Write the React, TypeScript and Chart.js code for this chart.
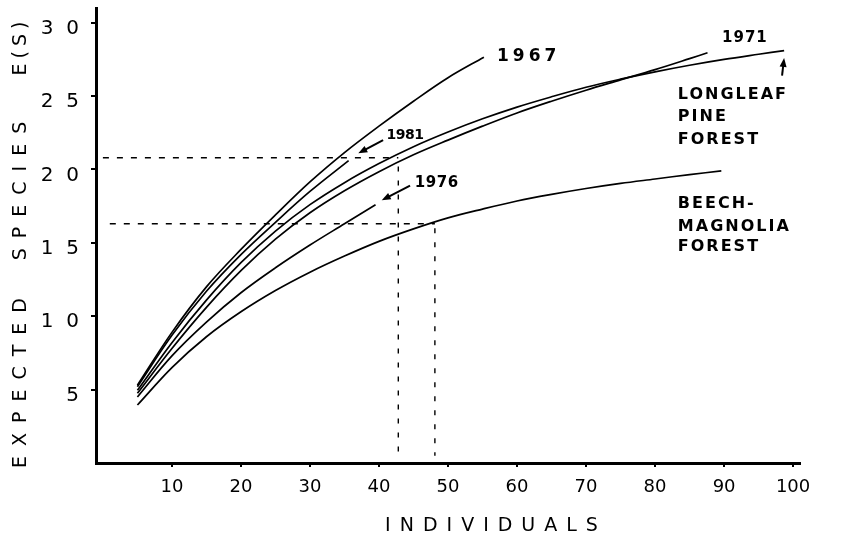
import React, { useEffect, useRef } from 'react';
import { Chart, registerables } from 'chart.js';

Chart.register(...registerables);

// ---------- tick labels ----------
const X_TICKS = [10, 20, 30, 40, 50, 60, 70, 80, 90, 100];
const X_TICK_LABELS = ['10', '20', '30', '40', '50', '60', '70', '80', '90', '100'];
const Y_TICKS = [5, 10, 15, 20, 25, 30];
const Y_TICK_LABELS = ['5', '1  0', '1  5', '2  0', '2  5', '3  0'];

// ---------- rarefaction curves (individuals -> expected species) ----------
const X_1967 = [5, 10, 15, 20, 25, 30, 35, 40, 45, 50, 55.2];
const Y_1967 = [5.3, 8.9, 12.0, 14.55, 16.9, 19.15, 21.15, 22.95, 24.65, 26.25, 27.65];

const X_1981 = [5, 10, 15, 20, 25, 30, 35.6];
const Y_1981 = [5.2, 8.7, 11.7, 14.2, 16.4, 18.5, 20.6];

const X_LONGLEAF = [5, 10, 15, 20, 25, 30, 35, 40, 45, 50, 55, 60, 65, 70, 75, 80, 85, 90, 95, 98.7];
const Y_LONGLEAF = [4.95, 8.2, 11.1, 13.65, 15.8, 17.6, 19.1, 20.4, 21.55, 22.55, 23.45, 24.25, 24.95, 25.6, 26.15, 26.65, 27.1, 27.5, 27.85, 28.1];

const X_1971 = [5, 10, 15, 20, 25, 30, 35, 40, 45, 50, 55, 60, 65, 70, 75, 80, 85, 87.6];
const Y_1971 = [4.75, 7.8, 10.6, 13.1, 15.25, 17.05, 18.55, 19.85, 21.0, 22.0, 22.95, 23.85, 24.65, 25.4, 26.1, 26.8, 27.55, 27.95];

const X_1976 = [5, 10, 15, 20, 25, 30, 35, 39.5];
const Y_1976 = [4.5, 7.3, 9.6, 11.6, 13.3, 14.85, 16.3, 17.6];

const X_BEECH = [5, 10, 15, 20, 25, 30, 35, 40, 45, 50, 55, 60, 65, 70, 75, 80, 85, 89.6];
const Y_BEECH = [3.95, 6.5, 8.6, 10.3, 11.75, 13.0, 14.1, 15.1, 15.95, 16.7, 17.3, 17.85, 18.3, 18.7, 19.05, 19.35, 19.65, 19.9];

// ---------- dashed reading lines ----------
const REF_H1_X = [0, 42.8];
const REF_H1_Y = [20.8, 20.8];
const REF_V1_X = [42.8, 42.8];
const REF_V1_Y = [20.2, 0.5];
const REF_H2_X = [1, 48.1];
const REF_H2_Y = [16.3, 16.3];
const REF_V2_X = [48.1, 48.1];
const REF_V2_Y = [16.0, 0.5];

// ---------- annotations (data coordinates) ----------
const NOTE_TEXT = ['1967', '1981', '1976', '1971', 'LONGLEAF', 'PINE', 'FOREST', 'BEECH-', 'MAGNOLIA', 'FOREST'];
const NOTE_X = [57.1, 41.1, 45.2, 89.7, 83.3, 83.3, 83.3, 83.3, 83.3, 83.3];
const NOTE_Y = [27.7, 22.35, 19.1, 28.95, 25.05, 23.6, 22.0, 17.65, 16.1, 14.75];

const ARROW_TAIL_X = [40.6, 44.5, 98.4];
const ARROW_TAIL_Y = [22.0, 18.9, 26.4];
const ARROW_TIP_X = [37.0, 40.4, 98.7];
const ARROW_TIP_Y = [21.1, 17.9, 27.6];

const FONT = '"DejaVu Sans", "Liberation Sans", sans-serif';

const pts = (xs: number[], ys: number[]) => xs.map((x, i) => ({ x, y: ys[i] }));

const curve = (label: string, xs: number[], ys: number[]) => ({
  label,
  data: pts(xs, ys),
  borderColor: '#000',
  borderWidth: 1.7,
  pointRadius: 0,
  fill: false,
  tension: 0.35,
});

const dashed = (label: string, xs: number[], ys: number[], dash: number[]) => ({
  label,
  data: pts(xs, ys),
  borderColor: '#000',
  borderWidth: 1.4,
  borderDash: dash,
  pointRadius: 0,
  fill: false,
  tension: 0,
});

const notesPlugin = {
  id: 'notes',
  afterDatasetsDraw(chart: any) {
    const { ctx, scales } = chart;
    const xs = scales.x;
    const ys = scales.y;
    ctx.save();
    ctx.fillStyle = '#000';
    ctx.strokeStyle = '#000';
    ctx.textBaseline = 'middle';
    ctx.textAlign = 'left';

    const styles: Record<string, [string, number]> = {
      '1967': ['bold 17px ' + FONT, 4],
      '1981': ['bold 14px ' + FONT, -0.5],
      '1976': ['bold 15px ' + FONT, 0.5],
      '1971': ['bold 15px ' + FONT, 1],
    };
    NOTE_TEXT.forEach((t, i) => {
      const st = styles[t] || ['bold 16px ' + FONT, 2];
      ctx.font = st[0];
      (ctx as any).letterSpacing = st[1] + 'px';
      ctx.fillText(t, xs.getPixelForValue(NOTE_X[i]), ys.getPixelForValue(NOTE_Y[i]));
    });
    (ctx as any).letterSpacing = '0px';

    // arrows
    ctx.lineWidth = 2;
    ARROW_TIP_X.forEach((_, i) => {
      const x0 = xs.getPixelForValue(ARROW_TAIL_X[i]);
      const y0 = ys.getPixelForValue(ARROW_TAIL_Y[i]);
      const x1 = xs.getPixelForValue(ARROW_TIP_X[i]);
      const y1 = ys.getPixelForValue(ARROW_TIP_Y[i]);
      const a = Math.atan2(y1 - y0, x1 - x0);
      const L = 9;
      const W = 3.5;
      ctx.beginPath();
      ctx.moveTo(x0, y0);
      ctx.lineTo(x1 - Math.cos(a) * L * 0.7, y1 - Math.sin(a) * L * 0.7);
      ctx.stroke();
      ctx.beginPath();
      ctx.moveTo(x1, y1);
      ctx.lineTo(x1 - Math.cos(a) * L - Math.sin(a) * W, y1 - Math.sin(a) * L + Math.cos(a) * W);
      ctx.lineTo(x1 - Math.cos(a) * L + Math.sin(a) * W, y1 - Math.sin(a) * L - Math.cos(a) * W);
      ctx.closePath();
      ctx.fill();
    });

    // x-axis title
    ctx.font = '19px ' + FONT;
    ctx.textAlign = 'center';
    (ctx as any).letterSpacing = '9px';
    ctx.fillText('INDIVIDUALS', 496, 526);

    // y-axis title
    ctx.translate(21, 0);
    ctx.rotate(-Math.PI / 2);
    ctx.font = '19px ' + FONT;
    (ctx as any).letterSpacing = '10px';
    ctx.fillText('EXPECTED', -378, 0);
    ctx.fillText('SPECIES', -186, 0);
    (ctx as any).letterSpacing = '5px';
    ctx.fillText('E(S)', -46, 0);
    (ctx as any).letterSpacing = '0px';
    ctx.restore();
  },
};

export default function App() {
  const canvasRef = useRef<HTMLCanvasElement | null>(null);

  useEffect(() => {
    document.body.style.margin = '0';
    const canvas = canvasRef.current;
    if (!canvas) return;
    const chart = new Chart(canvas, {
      type: 'line',
      data: {
        datasets: [
          curve('1967', X_1967, Y_1967),
          curve('1981', X_1981, Y_1981),
          curve('Longleaf pine forest', X_LONGLEAF, Y_LONGLEAF),
          curve('1971', X_1971, Y_1971),
          curve('1976', X_1976, Y_1976),
          curve('Beech-magnolia forest', X_BEECH, Y_BEECH),
          dashed('ref-h1', REF_H1_X, REF_H1_Y, [6, 8]),
          dashed('ref-v1', REF_V1_X, REF_V1_Y, [5, 9]),
          dashed('ref-h2', REF_H2_X, REF_H2_Y, [6, 8]),
          dashed('ref-v2', REF_V2_X, REF_V2_Y, [5, 9]),
        ] as any,
      },
      options: {
        animation: false,
        responsive: true,
        maintainAspectRatio: false,
        layout: { padding: { top: 8, right: 65, left: 0, bottom: 0 } },
        plugins: { legend: { display: false }, tooltip: { enabled: false } },
        scales: {
          x: {
            type: 'linear',
            min: -1,
            max: 101,
            afterBuildTicks: (s: any) => {
              s.ticks = X_TICKS.map((v) => ({ value: v }));
            },
            afterFit: (s: any) => {
              s.height = 76;
              s.paddingLeft = 0;
              s.paddingRight = 0;
            },
            grid: { drawOnChartArea: false, drawTicks: true, tickLength: 4, color: '#000', lineWidth: 2 },
            border: { display: true, color: '#000', width: 3 },
            ticks: {
              color: '#000',
              font: { family: FONT, size: 18 },
              padding: 10,
              maxRotation: 0,
              autoSkip: false,
              callback: (v: any) => X_TICK_LABELS[X_TICKS.indexOf(Number(v))] ?? '',
            },
          },
          y: {
            type: 'linear',
            min: 0,
            max: 31,
            afterBuildTicks: (s: any) => {
              s.ticks = Y_TICKS.map((v) => ({ value: v }));
            },
            afterFit: (s: any) => {
              s.width = 96;
              s.paddingTop = 0;
              s.paddingBottom = 0;
            },
            grid: { drawOnChartArea: false, drawTicks: true, tickLength: 5, color: '#000', lineWidth: 2 },
            border: { display: true, color: '#000', width: 3 },
            ticks: {
              color: '#000',
              font: { family: FONT, size: 20 },
              padding: 12,
              labelOffset: 6,
              autoSkip: false,
              callback: (v: any) => Y_TICK_LABELS[Y_TICKS.indexOf(Number(v))] ?? '',
            },
          },
        },
      } as any,
      plugins: [notesPlugin],
    });
    return () => chart.destroy();
  }, []);

  return (
    <div style={{ width: 865, height: 539, position: 'relative', background: '#fff' }}>
      <canvas ref={canvasRef} />
    </div>
  );
}
